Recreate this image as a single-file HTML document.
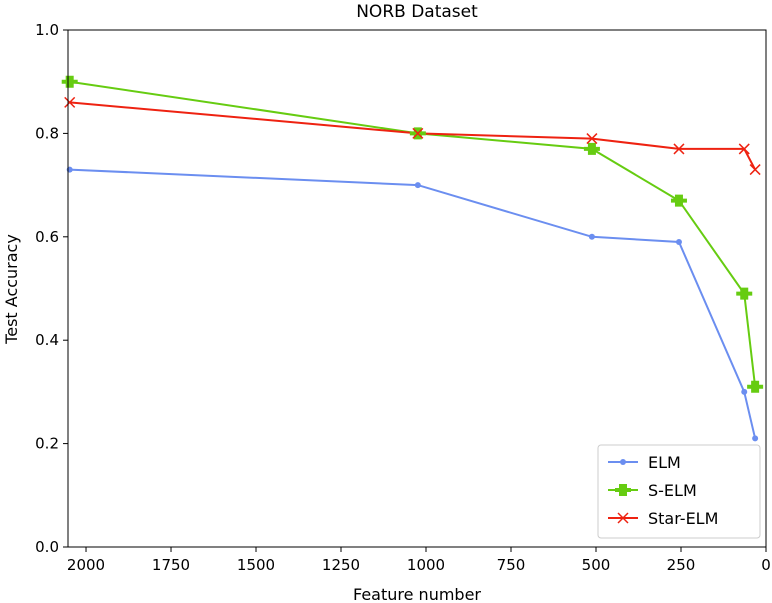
<!DOCTYPE html>
<html><head><meta charset="utf-8">
<style>
body{margin:0;background:#fff;}
svg{display:block;font-family:"DejaVu Sans","Liberation Sans",sans-serif;}
</style></head>
<body>
<svg id="chart" width="772" height="603" viewBox="0 0 772 603">
<text x="417" y="17" font-size="17" text-anchor="middle">NORB Dataset</text>
<g id="axes"></g>
<g id="series"></g>
<rect x="68" y="30" width="698" height="517" fill="none" stroke="#000" stroke-width="1"/>
<text x="417" y="600" font-size="16" text-anchor="middle">Feature number</text>
<text transform="translate(17,289) rotate(-90)" font-size="16" text-anchor="middle">Test Accuracy</text>
<g>
<rect x="598" y="445" width="162" height="93" rx="3" fill="#fff" stroke="#ccc"/>
<g>
<line x1="608" y1="462" x2="638" y2="462" stroke="#6b8ef0" stroke-width="2"/><circle cx="623" cy="462" r="3" fill="#6b8ef0"/>
<text x="648" y="468" font-size="16">ELM</text></g>
<g>
<line x1="608" y1="490" x2="638" y2="490" stroke="#66cc11" stroke-width="2"/><path d="M619,484h8v4h4v4h-4v4h-8v-4h-4v-4h4z" fill="#66cc11" transform="translate(0,0)"/>
<text x="648" y="496" font-size="16">S-ELM</text></g>
<g>
<line x1="608" y1="518" x2="638" y2="518" stroke="#ee2211" stroke-width="2"/><path d="M618,513l10,10M628,513l-10,10" stroke="#ee2211" stroke-width="1.5"/>
<text x="648" y="524" font-size="16">Star-ELM</text></g>
</g>
</svg>
<script>
const features=[2048,1024,512,256,64,32];
const elm=[0.73,0.70,0.60,0.59,0.30,0.21];
const selm=[0.90,0.80,0.77,0.67,0.49,0.31];
const star=[0.86,0.80,0.79,0.77,0.77,0.73];
const xTicks=[2000,1750,1500,1250,1000,750,500,250,0];
const yTicks=[0.0,0.2,0.4,0.6,0.8,1.0];
const NS="http://www.w3.org/2000/svg";
const X=v=>766-v*(698/2053);
const Y=v=>547-v*517;
const axes=document.getElementById('axes');
const ser=document.getElementById('series');
function mk(tag,attrs,parent){const e=document.createElementNS(NS,tag);for(const k in attrs)e.setAttribute(k,attrs[k]);parent.appendChild(e);return e;}
xTicks.forEach(t=>{
 const l=mk('line',{x1:X(t),x2:X(t),y1:547,y2:552,stroke:'#000'},axes);
 
 
 const tx=mk('text',{x:X(t),y:570,'font-size':15,'text-anchor':'middle'},axes);tx.textContent=t;
 
 
});
yTicks.forEach(t=>{
 const l=mk('line',{x1:63,x2:68,y1:Y(t),y2:Y(t),stroke:'#000'},axes);
 
 
 const tx=mk('text',{x:59,y:Y(t)+5,'font-size':15,'text-anchor':'end'},axes);tx.textContent=t.toFixed(1);
 
 
});
function line(vals,color,name){
 const p=mk('polyline',{points:vals.map((v,i)=>X(features[i])+','+Y(v)).join(' '),fill:'none',stroke:color,'stroke-width':2},ser);
 
 
}
line(elm,'#6b8ef0','elm');line(selm,'#66cc11','s-elm');line(star,'#ee2211','star-elm');
elm.forEach((v,i)=>{const c=mk('circle',{cx:X(features[i]),cy:Y(v),r:3,fill:'#6b8ef0'},ser);
 
 });
selm.forEach((v,i)=>{const x=X(features[i]),y=Y(v);const c=mk('path',{d:`M${x-4},${y-6}h8v4h4v4h-4v4h-8v-4h-4v-4h4z`,fill:'#66cc11'},ser);
 
 });
star.forEach((v,i)=>{const x=X(features[i]),y=Y(v);const c=mk('path',{d:`M${x-5},${y-5}l10,10M${x+5},${y-5}l-10,10`,stroke:'#ee2211','stroke-width':1.5},ser);
 
 });
</script>
</body></html>
